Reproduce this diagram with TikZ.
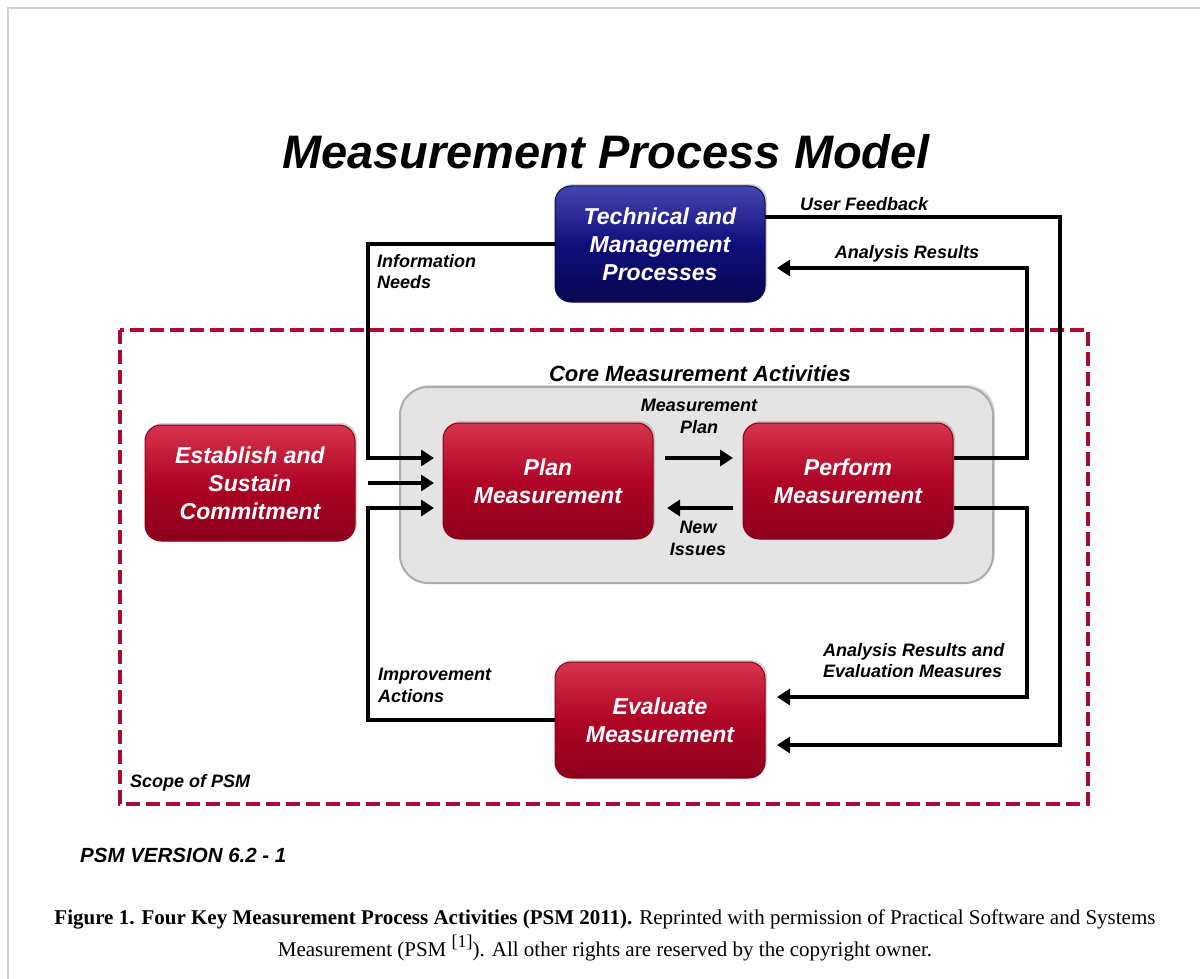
\documentclass[tikz,border=0pt]{standalone}
\usepackage{fontspec}
\setmainfont{Liberation Serif}
\newfontfamily\psmsans{Liberation Sans}
\usetikzlibrary{arrows.meta,shadows}
\definecolor{psmRed}{RGB}{176,4,38}
\definecolor{psmRedHi}{RGB}{214,52,78}
\definecolor{psmRedLo}{RGB}{140,0,28}
\definecolor{psmBlue}{RGB}{16,14,124}
\definecolor{psmBlueHi}{RGB}{70,70,176}
\definecolor{psmBlueLo}{RGB}{8,8,80}
\definecolor{scopeRed}{RGB}{170,12,52}
\definecolor{coreGray}{RGB}{228,228,228}
\newcommand\psmLabel{\psmsans\bfseries\itshape\fontsize{18}{21.5}\selectfont}
\tikzset{
    actbox/.style={rounded corners=16, minimum width=210, minimum height=116,
        align=center, text=white, line width=1,
        font=\psmsans\bfseries\itshape\fontsize{23}{28}\selectfont,
        drop shadow={shadow xshift=2, shadow yshift=-2, opacity=.35}},
    redbox/.style={actbox, draw=psmRedLo, top color=psmRedHi, bottom color=psmRedLo, middle color=psmRed},
    bluebox/.style={actbox, draw=psmBlueLo, top color=psmBlueHi, bottom color=psmBlueLo, middle color=psmBlue},
    flow/.style={line width=4, -{Triangle[length=13,width=16]}},
    link/.style={line width=4},
    lbl/.style={font=\psmLabel, align=left, inner sep=0},
}

\begin{document}
\begin{tikzpicture}[x=1pt,y=-1pt]
\useasboundingbox (0,0) rectangle (1200,979);
% page frame
\draw[gray!35, line width=1.2] (8,979) -- (8,8) -- (1200,8);

\node[font=\psmsans\bfseries\itshape\fontsize{47}{50}\selectfont, anchor=base] (title) at (606,168) {Measurement Process Model};

% scope of PSM
\draw[scopeRed, line width=4, dash pattern=on 14 off 6] (120,330) rectangle (1088,804);
\node[lbl, anchor=base west] (scope) at (130,787) {Scope of PSM};

% core activities
\node[draw=gray!65, line width=2, fill=coreGray, rounded corners=28,
      minimum width=593, minimum height=196,
      drop shadow={shadow xshift=2, shadow yshift=-2, opacity=.3}] (core) at (696.5,485) {};
\node[font=\psmsans\bfseries\itshape\fontsize{22}{26}\selectfont, anchor=base] (coretitle) at (700,381) {Core Measurement Activities};

% boxes
\node[bluebox] (tmp) at (660,244) {Technical and\\Management\\Processes};
\node[redbox] (esc) at (250,483) {Establish and\\Sustain\\Commitment};
\node[redbox] (plan) at (548,481) {Plan\\Measurement};
\node[redbox] (perf) at (848,481) {Perform\\Measurement};
\node[redbox] (eval) at (660,720) {Evaluate\\Measurement};

% arrow ends and buses
\coordinate (infoIn) at (434,458);
\coordinate (commIn) at (434,483);
\coordinate (imprIn) at (434,508);
\coordinate (mpOut) at (665,458);
\coordinate (mpIn) at (733,458);
\coordinate (niOut) at (733,508);
\coordinate (niIn) at (667,508);
\coordinate (arIn) at (777,268);
\coordinate (ufOut) at (765,217);
\coordinate (aeIn) at (777,697);
\coordinate (ufIn) at (777,745);
\coordinate (lbus) at (368,0);
\coordinate (rbusA) at (1027,0);
\coordinate (rbusB) at (1060,0);

% connectors
\draw[flow] (tmp.west) -| (lbus |- infoIn) -- (infoIn);
\draw[flow] (lbus |- commIn) -- (commIn);
\draw[flow] (eval.west) -| (lbus |- imprIn) -- (imprIn);
\draw[flow] (mpOut) -- (mpIn);
\draw[flow] (niOut) -- (niIn);
\draw[flow] (perf.east |- infoIn) -| (rbusA |- arIn) -- (arIn);
\draw[flow] (perf.east |- imprIn) -| (rbusA |- aeIn) -- (aeIn);
\draw[flow] (ufOut) -| (rbusB |- ufIn) -- (ufIn);

% connector labels
\node[lbl, anchor=base west] (ufLbl) at (800,211) {User Feedback};
\node[lbl, anchor=base] (arLbl) at (907,258) {Analysis Results};
\node[lbl, anchor=north west] (infoLbl) at (377,254) {Information\\Needs};
\node[lbl, anchor=north, align=center] (mpLbl) at (699,399) {Measurement\\Plan};
\node[lbl, anchor=north, align=center] (niLbl) at (698,521) {New\\Issues};
\node[lbl, anchor=north west] (imprLbl) at (378,668) {Improvement\\Actions};
\node[lbl, anchor=north west] (aeLbl) at (823,643) {Analysis Results and\\Evaluation Measures};

\node[lbl, font=\psmsans\bfseries\itshape\fontsize{20.5}{23}\selectfont, anchor=base west] (version) at (80,862) {PSM VERSION 6.2 - 1};

% caption
\node[font=\fontsize{21}{32}\selectfont, align=center, anchor=base, inner sep=0] (caption) at (605,956)
    {\textbf{Figure 1. Four Key Measurement Process Activities (PSM 2011).} Reprinted with permission of Practical Software and Systems\\
     Measurement (PSM \raisebox{9pt}{\fontsize{18}{18}\selectfont[1]}). All other rights are reserved by the copyright owner.};
\end{tikzpicture}
\end{document}
